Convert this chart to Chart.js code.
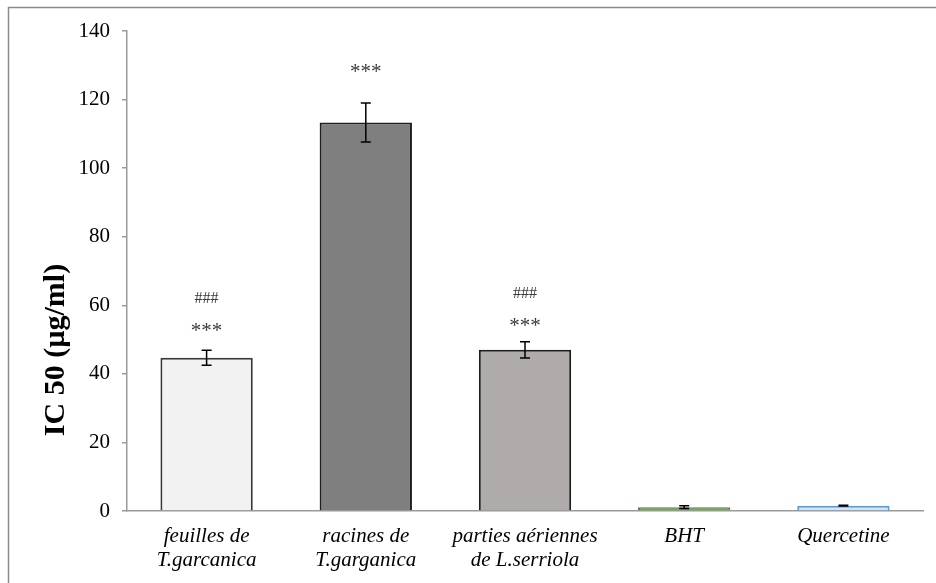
<!DOCTYPE html>
<html>
<head>
<meta charset="utf-8">
<script src="https://cdn.jsdelivr.net/npm/chart.js@4"></script>
<style>
  html, body { margin: 0; padding: 0; background: #fff; }
  #wrap { width: 936px; height: 583px; }
</style>
</head>
<body>
<div id="wrap"><canvas id="c" width="936" height="583"></canvas></div>
<script>
// Extract categories (two-line labels)
const categories = [
  ['feuilles de', 'T.garcanica'],
  ['racines de', 'T.garganica'],
  ['parties aériennes', 'de L.serriola'],
  'BHT',
  'Quercetine'
];

// IC50 means (µg/ml) and their error (± SEM)
const ic50 = [44.7, 113.3, 47.0, 1.1, 1.55];
const ic50Err = [2.2, 5.7, 2.4, 0.4, 0.12];

// Significance marks and the level (µg/ml) at which each mark sits
const starMarks = ['***', '***', '***', '', ''];
const starLevels = [53.7, 129.3, 55.1, null, null];
const hashMarks = ['###', '', '###', '', ''];
const hashLevels = [62.3, null, 63.6, null, null];

// Y axis range
const yMin = 0, yMax = 140, yStep = 20;

const barFill = ['#f2f2f2', '#7f7f7f', '#afabab', '#70ad47', '#d3e4f8'];
const barEdge = ['#3a3a3a', '#1f1f1f', '#1f1f1f', '#4f8a2e', '#5b9bd5'];

const serif = "'Liberation Serif', 'Times New Roman', serif";

// Frame drawn around the whole figure
const framePlugin = {
  id: 'frame',
  beforeDraw(chart) {
    const ctx = chart.ctx;
    ctx.save();
    ctx.fillStyle = '#ffffff';
    ctx.fillRect(0, 0, chart.width, chart.height);
    ctx.strokeStyle = '#8c8c8c';
    ctx.lineWidth = 1.5;
    ctx.strokeRect(8.5, 7.5, 960, 620);
    ctx.restore();
  }
};

// Rotated y-axis title
const yTitlePlugin = {
  id: 'yTitle',
  afterDraw(chart) {
    const ctx = chart.ctx;
    ctx.save();
    ctx.translate(63.5, 350);
    ctx.rotate(-Math.PI / 2);
    ctx.font = 'bold 30px ' + serif;
    ctx.fillStyle = '#000';
    ctx.textAlign = 'center';
    ctx.textBaseline = 'alphabetic';
    ctx.fillText('IC 50 (µg/ml)', 0, 0);
    ctx.restore();
  }
};

// Error bars and significance marks
const errorPlugin = {
  id: 'errorBars',
  afterDatasetsDraw(chart) {
    const ctx = chart.ctx;
    const y = chart.scales.y;
    const meta = chart.getDatasetMeta(0);
    ctx.save();
    ctx.strokeStyle = '#000';
    ctx.lineWidth = 1.5;
    meta.data.forEach((bar, i) => {
      const x = bar.x;
      const top = y.getPixelForValue(ic50[i] + ic50Err[i]);
      const bot = y.getPixelForValue(ic50[i] - ic50Err[i]);
      const cap = 5;
      ctx.beginPath();
      ctx.moveTo(x, top); ctx.lineTo(x, bot);
      ctx.moveTo(x - cap, top); ctx.lineTo(x + cap, top);
      ctx.moveTo(x - cap, bot); ctx.lineTo(x + cap, bot);
      ctx.stroke();
    });

    const drawMark = (text, level, x, size) => {
      if (!text || level == null) return;
      ctx.font = size + 'px ' + serif;
      ctx.fillStyle = '#3a3a3a';
      ctx.textAlign = 'center';
      ctx.textBaseline = 'alphabetic';
      const m = ctx.measureText(text);
      const yc = y.getPixelForValue(level);
      const yb = yc + (m.actualBoundingBoxAscent - m.actualBoundingBoxDescent) / 2;
      ctx.fillText(text, x, yb);
    };
    meta.data.forEach((bar, i) => {
      drawMark(starMarks[i], starLevels[i], bar.x, 21);
      drawMark(hashMarks[i], hashLevels[i], bar.x, 16);
    });
    ctx.restore();
  }
};

new Chart(document.getElementById('c'), {
  type: 'bar',
  data: {
    labels: categories,
    datasets: [{
      data: ic50,
      backgroundColor: barFill,
      borderColor: barEdge,
      borderWidth: 2,
      categoryPercentage: 1.0,
      barPercentage: 0.58
    }]
  },
  options: {
    responsive: false,
    animation: false,
    devicePixelRatio: 1,
    layout: { padding: { left: 0, top: 31, right: 13, bottom: 0 } },
    plugins: {
      legend: { display: false },
      tooltip: { enabled: false }
    },
    scales: {
      x: {
        grid: { display: true, drawOnChartArea: false, drawTicks: false },
        border: { display: true, color: '#9a9a9a', width: 1.5 },
        ticks: {
          color: '#000',
          padding: 14,
          maxRotation: 0,
          autoSkip: false,
          font: { family: serif, size: 21, style: 'italic', lineHeight: 1.14 }
        },
        afterFit(scale) { scale.height = 72; }
      },
      y: {
        min: yMin,
        max: yMax,
        grid: { display: true, drawOnChartArea: false, drawTicks: true, tickLength: 5, color: '#9a9a9a', lineWidth: 1.5 },
        border: { display: true, color: '#9a9a9a', width: 1.5 },
        ticks: {
          stepSize: yStep,
          color: '#000',
          padding: 12,
          font: { family: serif, size: 21 }
        },
        afterFit(scale) { scale.width = 127; }
      }
    }
  },
  plugins: [framePlugin, errorPlugin, yTitlePlugin]
});
</script>
</body>
</html>
